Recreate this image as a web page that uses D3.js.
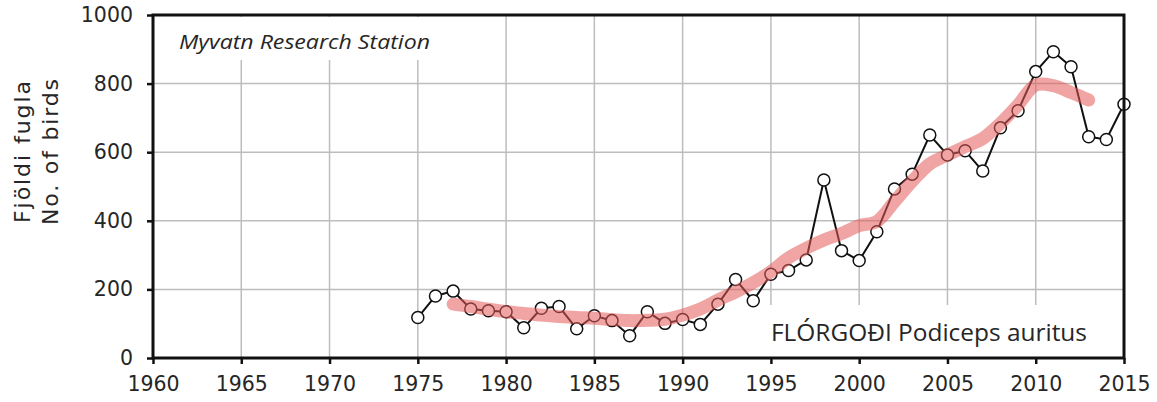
<!DOCTYPE html>
<html>
<head>
<meta charset="utf-8">
<script src="https://cdn.jsdelivr.net/npm/d3@7"></script>
<style>
  html, body { margin: 0; padding: 0; background: #fff; }
  svg { display: block; }
  text { fill: #262626; }
</style>
</head>
<body>
<svg id="chart" width="1157" height="402"></svg>
<script>
// Annual counts of Slavonian grebe (flórgoði) at Mývatn
const years = [1975, 1976, 1977, 1978, 1979, 1980, 1981, 1982, 1983, 1984,
  1985, 1986, 1987, 1988, 1989, 1990, 1991, 1992, 1993, 1994,
  1995, 1996, 1997, 1998, 1999, 2000, 2001, 2002, 2003, 2004,
  2005, 2006, 2007, 2008, 2009, 2010, 2011, 2012, 2013, 2014, 2015];
const counts = [118, 181, 195, 143, 138, 135, 88, 145, 150, 85,
  123, 109, 65, 135, 101, 112, 98, 157, 229, 167,
  244, 255, 286, 519, 313, 284, 368, 493, 536, 650,
  592, 604, 545, 671, 721, 835, 893, 849, 645, 637, 740];

// Smoothed trend
const trendYears = [1977, 1978, 1979, 1980, 1981, 1982, 1983, 1984, 1985, 1986,
  1987, 1988, 1989, 1990, 1991, 1992, 1993, 1994, 1995, 1996,
  1997, 1998, 1999, 2000, 2001, 2002, 2003, 2004, 2005, 2006,
  2007, 2008, 2009, 2010, 2011, 2012, 2013];
const trendValues = [157, 150, 142, 135, 130, 125, 121, 118, 116, 112,
  109, 110, 113, 125, 143, 169, 193, 220, 252, 292,
  320, 344, 363, 386, 398, 456, 515, 566, 592, 616,
  640, 684, 738, 796, 794, 774, 752];

const xTicks = [1960, 1965, 1970, 1975, 1980, 1985, 1990, 1995, 2000, 2005, 2010, 2015];
const yTicks = [0, 200, 400, 600, 800, 1000];

const yAxisTitle = ["Fjöldi fugla", "No. of birds"];
const stationLabel = "Myvatn Research Station";
const speciesLabel = "FLÓRGOÐI Podiceps auritus";

const svg = d3.select("#chart");
const plotLeft = 153, plotRight = 1124, plotTop = 15, plotBottom = 358;
const axisFont = "'DejaVu Sans', Verdana, sans-serif";
const labelFont = "'Open Sans', 'Noto Sans', sans-serif";

const x = d3.scaleLinear().domain([1960, 2015]).range([plotLeft, plotRight]);
const y = d3.scaleLinear().domain([0, 1000]).range([plotBottom, plotTop]);

// grid
const grid = svg.append("g").attr("stroke", "#bdbdbd").attr("stroke-width", 1.5);
grid.selectAll("line.v").data(xTicks.slice(1, -1)).join("line")
  .attr("x1", d => x(d)).attr("x2", d => x(d))
  .attr("y1", plotTop).attr("y2", plotBottom);
grid.selectAll("line.h").data(yTicks.slice(1, -1)).join("line")
  .attr("x1", plotLeft).attr("x2", plotRight)
  .attr("y1", d => y(d)).attr("y2", d => y(d));

// white boxes behind the two labels
svg.append("rect").attr("x", plotLeft + 2).attr("y", plotTop + 2)
  .attr("width", 285).attr("height", 43).attr("fill", "#fff");
svg.append("rect").attr("x", 765).attr("y", 305)
  .attr("width", plotRight - 765 - 1).attr("height", plotBottom - 305 - 1).attr("fill", "#fff");

// observed counts
const line = d3.line().x((d, i) => x(years[i])).y(d => y(d));
svg.append("path").datum(counts)
  .attr("d", line)
  .attr("fill", "none").attr("stroke", "#111").attr("stroke-width", 2);
svg.append("g").selectAll("circle").data(counts).join("circle")
  .attr("cx", (d, i) => x(years[i])).attr("cy", d => y(d)).attr("r", 6)
  .attr("fill", "#fff").attr("stroke", "#111").attr("stroke-width", 1.5);

// trend band
const trend = d3.line().curve(d3.curveCatmullRom)
  .x((d, i) => x(trendYears[i])).y(d => y(d));
svg.append("path").datum(trendValues)
  .attr("d", trend)
  .attr("fill", "none").attr("stroke", "#e45a5a").attr("stroke-opacity", 0.55)
  .attr("stroke-width", 13).attr("stroke-linecap", "round").attr("stroke-linejoin", "round");

// axes
const xAxis = d3.axisBottom(x).tickValues(xTicks).tickFormat(d3.format("d"))
  .tickSize(6).tickSizeOuter(0).tickPadding(12);
const gx = svg.append("g").attr("transform", `translate(0,${plotBottom})`).call(xAxis);
gx.select(".domain").remove();
gx.selectAll(".tick line").attr("stroke", "#111").attr("stroke-width", 2.5);
gx.selectAll(".tick text").attr("font-size", 20.5).attr("fill", "#262626")
  .attr("font-family", axisFont);

const yAxis = d3.axisLeft(y).tickValues(yTicks).tickFormat(d3.format("d"))
  .tickSize(6).tickSizeOuter(0).tickPadding(14);
const gy = svg.append("g").attr("transform", `translate(${plotLeft},0)`).call(yAxis);
gy.select(".domain").remove();
gy.selectAll(".tick line").attr("stroke", "#111").attr("stroke-width", 2.5);
gy.selectAll(".tick text").attr("font-size", 20.5).attr("fill", "#262626")
  .attr("font-family", axisFont);

// frame
svg.append("rect").attr("x", plotLeft).attr("y", plotTop)
  .attr("width", plotRight - plotLeft).attr("height", plotBottom - plotTop)
  .attr("fill", "none").attr("stroke", "#111").attr("stroke-width", 3);

// y-axis title (two lines)
const yt = svg.append("text")
  .attr("transform", "translate(30,152) rotate(-90)")
  .attr("text-anchor", "middle").attr("font-size", 22)
  .attr("font-family", axisFont);
yt.append("tspan").attr("x", 0).attr("y", 0)
  .attr("textLength", 142).attr("lengthAdjust", "spacing").text(yAxisTitle[0]);
yt.append("tspan").attr("x", 0).attr("y", 28)
  .attr("textLength", 146).attr("lengthAdjust", "spacing").text(yAxisTitle[1]);

// labels
svg.append("text").attr("x", 179).attr("y", 49)
  .attr("font-family", labelFont).attr("font-size", 20).attr("font-style", "italic")
  .attr("textLength", 251).attr("lengthAdjust", "spacingAndGlyphs")
  .text(stationLabel);
svg.append("text").attr("x", 771).attr("y", 341)
  .attr("font-family", labelFont).attr("font-size", 23)
  .attr("textLength", 316).attr("lengthAdjust", "spacingAndGlyphs")
  .text(speciesLabel);
</script>
</body>
</html>
